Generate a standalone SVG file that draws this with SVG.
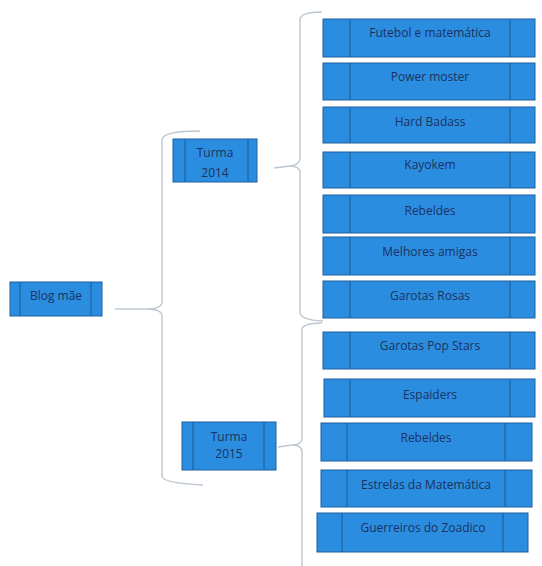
<svg xmlns="http://www.w3.org/2000/svg" width="542" height="566" viewBox="0 0 542 566">
<style>
.box{fill:#2b8de0;stroke:#1d5f9f;stroke-width:1}
.in{stroke:#1d5a94;stroke-width:1}
.t{font-family:"Open Sans","Liberation Sans",sans-serif;font-size:12px;fill:#1b3260;text-anchor:middle}
.c{fill:none;stroke:#bcc7d2;stroke-width:1.4}
</style>
<rect width="542" height="566" fill="#ffffff"/>
<g id="connectors">
<path class="c" d="M115,309 L146,309"/>
<path class="c" d="M200,131 Q162,131 162,140 L162,302 Q162,309 146,309 Q162,309 162,316 L162,476 Q162,483 203,485"/>
<path class="c" d="M274,168 L290,166"/>
<path class="c" d="M322,12 Q300,12 300,20 L300,158 Q300,165 290,166 Q300,166 300,173 L300,312 Q300,320 323,321"/>
<path class="c" d="M278,447 L292,445"/>
<path class="c" d="M322,323 Q302,323 302,330 L302,438 Q302,445 292,445 Q302,445 302,452 L302,566"/>
</g>
<g id="blog-mae"><rect class="box" x="10" y="282" width="92" height="34"/><line class="in" x1="20" y1="282" x2="20" y2="316"/><line class="in" x1="91" y1="282" x2="91" y2="316"/><text class="t" x="56" y="300">Blog mãe</text></g>
<g id="turma-2014"><rect class="box" x="173" y="139" width="84" height="43"/><line class="in" x1="185" y1="139" x2="185" y2="182"/><line class="in" x1="248" y1="139" x2="248" y2="182"/><text class="t" x="215" y="157">Turma</text><text class="t" x="215" y="177">2014</text></g>
<g id="turma-2015"><rect class="box" x="182" y="422" width="94" height="48"/><line class="in" x1="193" y1="422" x2="193" y2="470"/><line class="in" x1="264" y1="422" x2="264" y2="470"/><text class="t" x="229" y="441">Turma</text><text class="t" x="229" y="458">2015</text></g>
<g id="futebol"><rect class="box" x="323" y="19" width="212" height="38"/><line class="in" x1="350" y1="19" x2="350" y2="57"/><line class="in" x1="510" y1="19" x2="510" y2="57"/><text class="t" x="430" y="37">Futebol e matemática</text></g>
<g id="power"><rect class="box" x="323" y="63" width="212" height="37"/><line class="in" x1="350" y1="63" x2="350" y2="100"/><line class="in" x1="510" y1="63" x2="510" y2="100"/><text class="t" x="430" y="81">Power moster</text></g>
<g id="hard"><rect class="box" x="323" y="107" width="212" height="36"/><line class="in" x1="350" y1="107" x2="350" y2="143"/><line class="in" x1="510" y1="107" x2="510" y2="143"/><text class="t" x="430" y="126">Hard Badass</text></g>
<g id="kayokem"><rect class="box" x="323" y="152" width="212" height="36"/><line class="in" x1="350" y1="152" x2="350" y2="188"/><line class="in" x1="510" y1="152" x2="510" y2="188"/><text class="t" x="430" y="169">Kayokem</text></g>
<g id="rebeldes-2014"><rect class="box" x="323" y="195" width="212" height="38"/><line class="in" x1="350" y1="195" x2="350" y2="233"/><line class="in" x1="510" y1="195" x2="510" y2="233"/><text class="t" x="430" y="215">Rebeldes</text></g>
<g id="melhores"><rect class="box" x="323" y="237" width="212" height="38"/><line class="in" x1="350" y1="237" x2="350" y2="275"/><line class="in" x1="510" y1="237" x2="510" y2="275"/><text class="t" x="430" y="256">Melhores amigas</text></g>
<g id="garotas-rosas"><rect class="box" x="323" y="281" width="212" height="37"/><line class="in" x1="350" y1="281" x2="350" y2="318"/><line class="in" x1="510" y1="281" x2="510" y2="318"/><text class="t" x="430" y="300">Garotas Rosas</text></g>
<g id="garotas-pop"><rect class="box" x="323" y="332" width="212" height="37"/><line class="in" x1="350" y1="332" x2="350" y2="369"/><line class="in" x1="510" y1="332" x2="510" y2="369"/><text class="t" x="430" y="350">Garotas Pop Stars</text></g>
<g id="espaiders"><rect class="box" x="324" y="379" width="211" height="38"/><line class="in" x1="350" y1="379" x2="350" y2="417"/><line class="in" x1="510" y1="379" x2="510" y2="417"/><text class="t" x="430" y="399">Espaiders</text></g>
<g id="rebeldes-2015"><rect class="box" x="321" y="423" width="211" height="38"/><line class="in" x1="347" y1="423" x2="347" y2="461"/><line class="in" x1="505" y1="423" x2="505" y2="461"/><text class="t" x="426" y="442">Rebeldes</text></g>
<g id="estrelas"><rect class="box" x="321" y="470" width="211" height="37"/><line class="in" x1="347" y1="470" x2="347" y2="507"/><line class="in" x1="505" y1="470" x2="505" y2="507"/><text class="t" x="426" y="489">Estrelas da Matemática</text></g>
<g id="guerreiros"><rect class="box" x="317" y="513" width="211" height="39"/><line class="in" x1="342" y1="513" x2="342" y2="552"/><line class="in" x1="503" y1="513" x2="503" y2="552"/><text class="t" x="423" y="532">Guerreiros do Zoadico</text></g>
</svg>
